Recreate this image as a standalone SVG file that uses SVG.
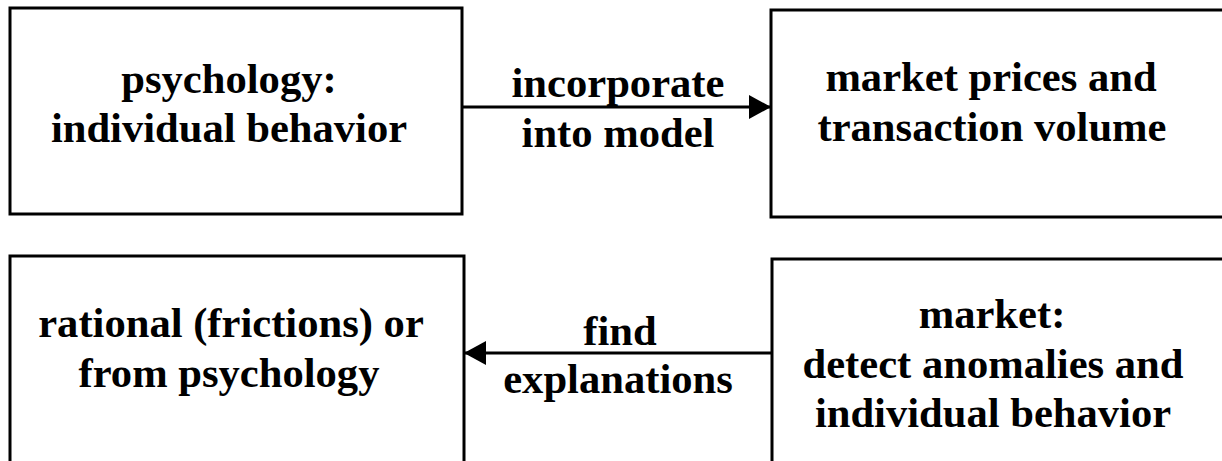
<svg xmlns="http://www.w3.org/2000/svg" width="1222" height="461" viewBox="0 0 1222 461">
<style>
.box{fill:#fff;stroke:#000;stroke-width:3}
.t{font-family:"Liberation Serif","Times New Roman",serif;font-weight:bold;font-size:42.6px;fill:#000;text-anchor:middle}
.c{stroke:#000;stroke-width:3;fill:none}
</style>
<defs>
<marker id="ah" viewBox="0 0 22 24" refX="22" refY="12" markerWidth="22" markerHeight="24" markerUnits="userSpaceOnUse" orient="auto">
<path d="M0,0 L22,12 L0,24 Z" fill="#000"/>
</marker>
</defs>
<rect width="1222" height="461" fill="#fff"/>
<g id="node-psychology">
<rect class="box" x="10" y="8" width="452" height="206"/>
<text class="t" x="229" y="93">psychology:</text>
<text class="t" x="229" y="142">individual behavior</text>
</g>
<g id="node-market-prices">
<rect class="box" x="771" y="10" width="460" height="207"/>
<text class="t" x="991" y="91">market prices and</text>
<text class="t" x="992" y="141">transaction volume</text>
</g>
<g id="node-rational">
<rect class="box" x="10" y="256" width="454" height="215"/>
<text class="t" x="231" y="337">rational (frictions) or</text>
<text class="t" x="229" y="387">from psychology</text>
</g>
<g id="node-market-detect">
<rect class="box" x="772" y="259" width="460" height="215"/>
<text class="t" x="992" y="328">market:</text>
<text class="t" x="993" y="378">detect anomalies and</text>
<text class="t" x="993" y="427">individual behavior</text>
</g>
<g id="connectors">
<line class="c" x1="462" y1="107" x2="771" y2="107" marker-end="url(#ah)"/>
<line class="c" x1="772" y1="353" x2="464" y2="353" marker-end="url(#ah)"/>
<text class="t" x="618" y="97">incorporate</text>
<text class="t" x="618" y="147">into model</text>
<text class="t" x="620" y="345">find</text>
<text class="t" x="618" y="393">explanations</text>
</g>
</svg>
